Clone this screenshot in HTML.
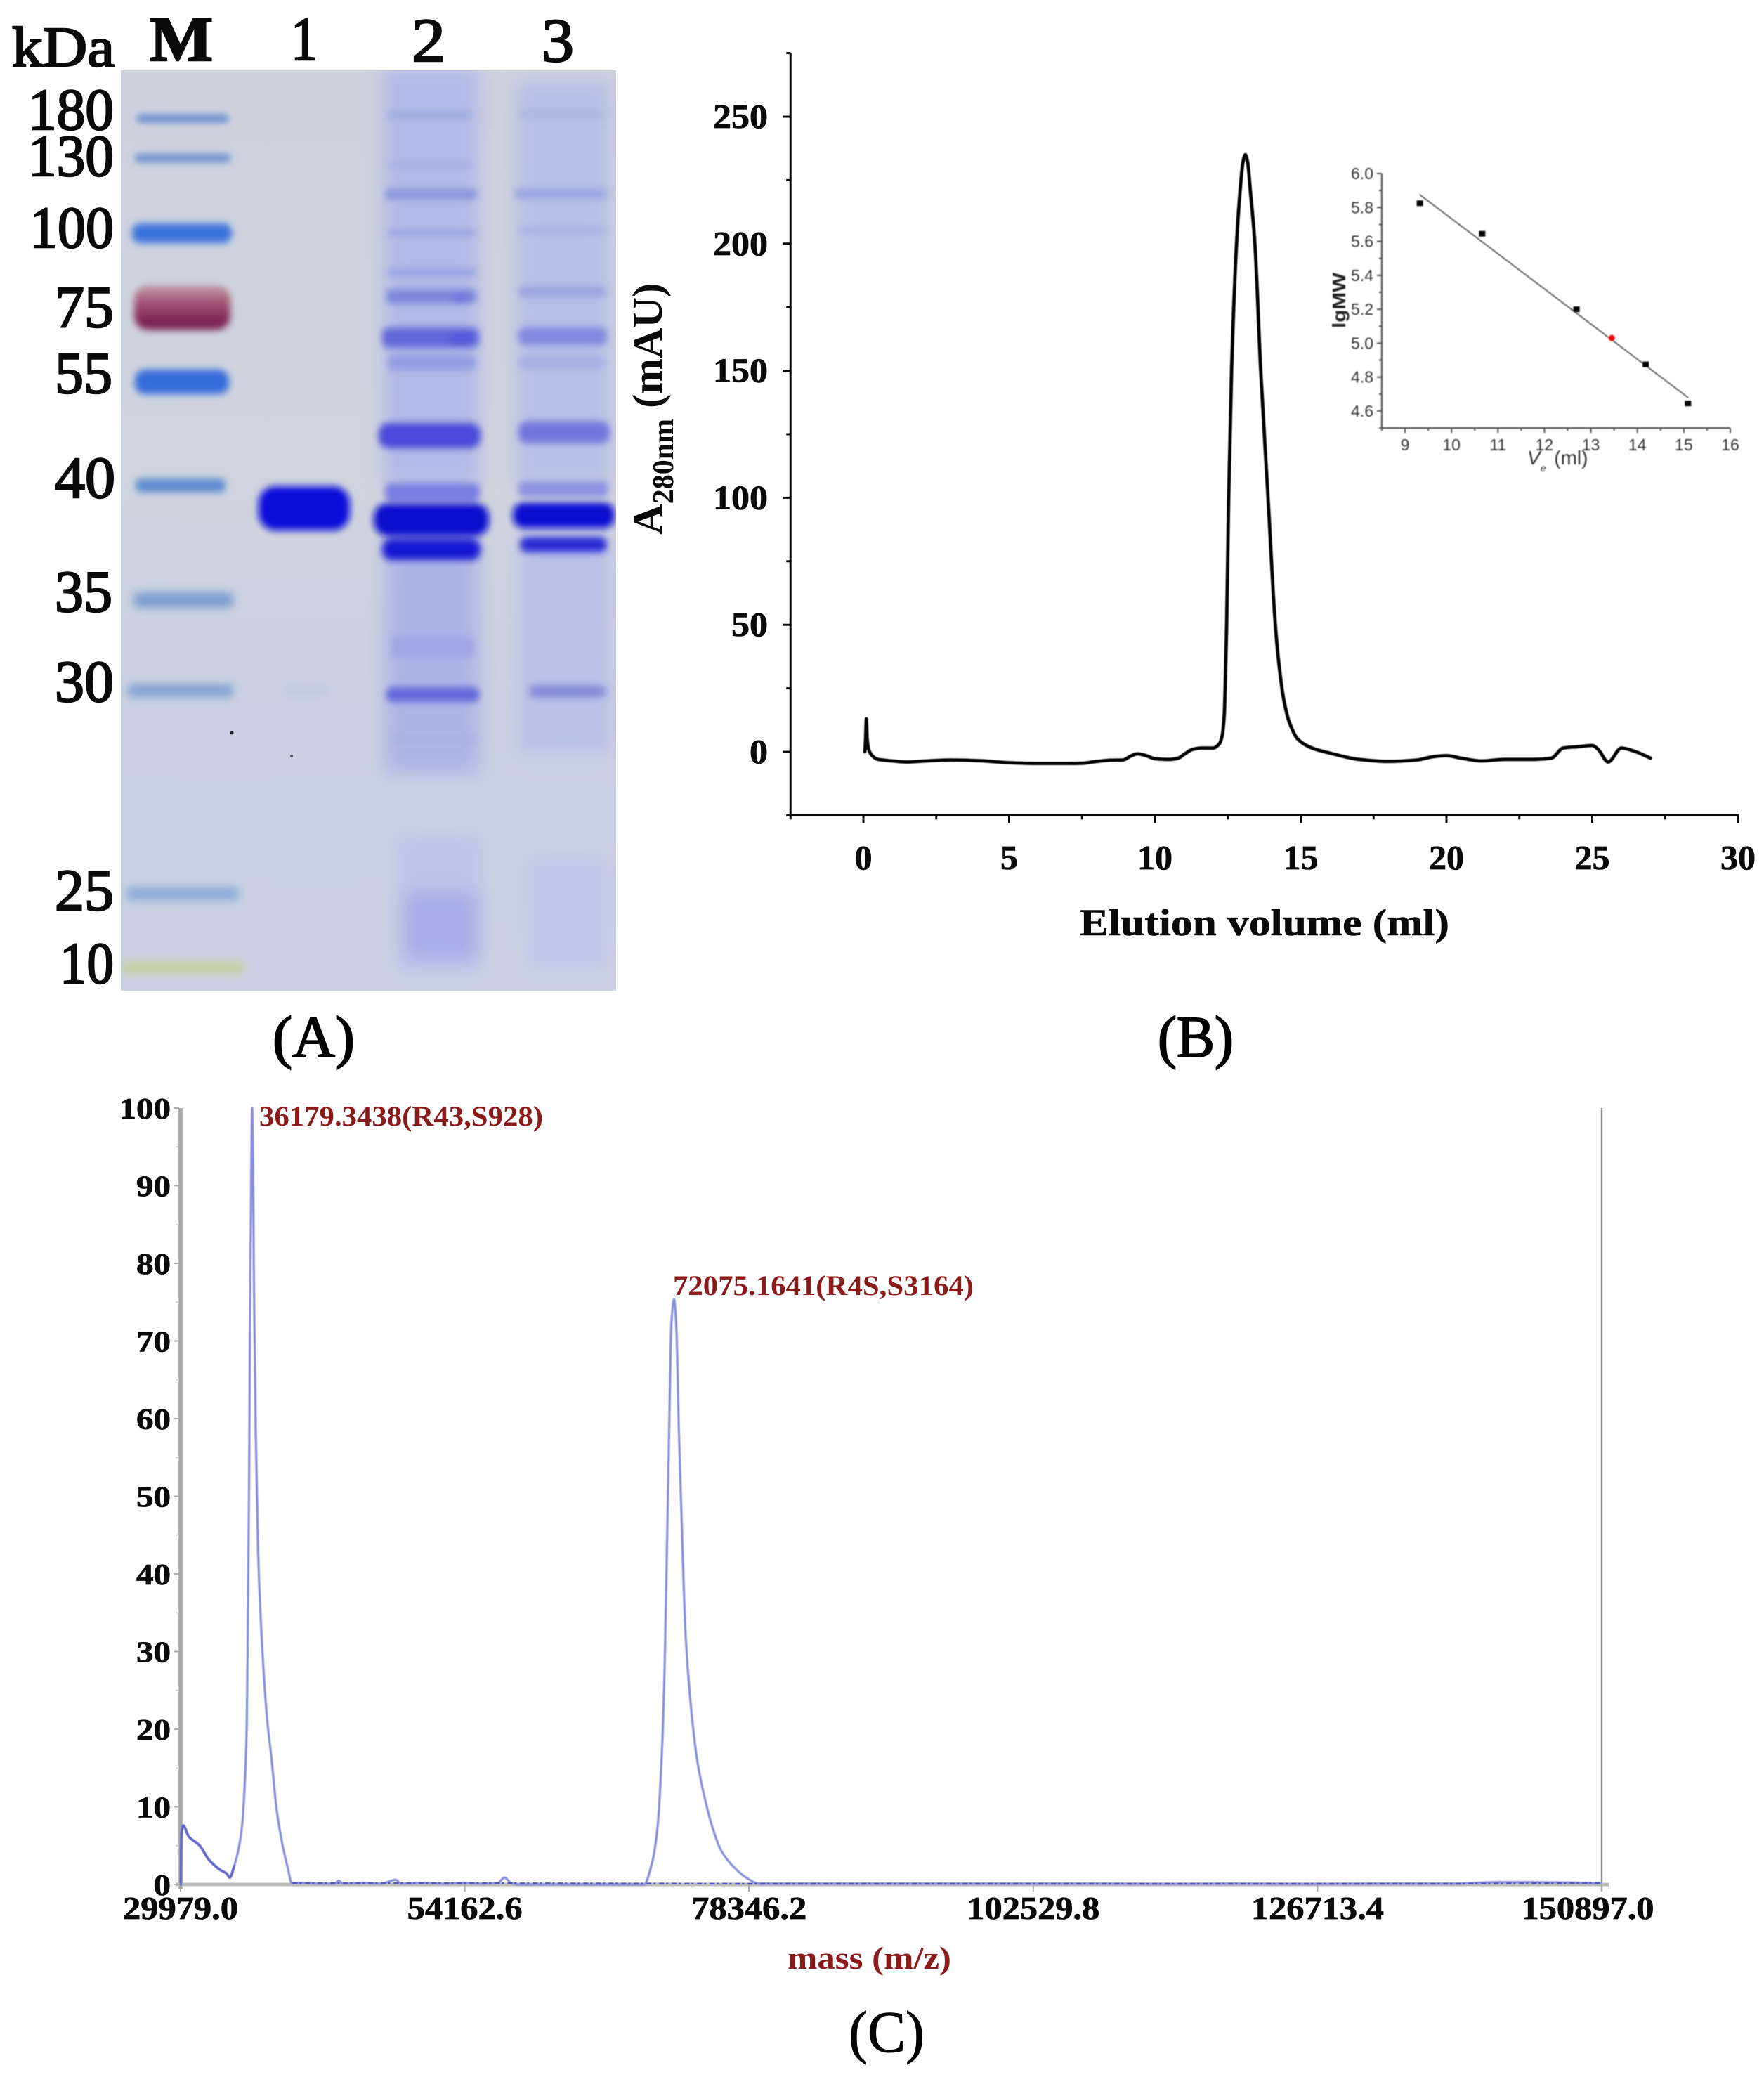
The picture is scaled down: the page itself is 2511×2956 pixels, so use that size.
<!DOCTYPE html>
<html lang="en">
<head>
<meta charset="utf-8">
<title>Protein purification figure: SDS-PAGE, gel filtration and mass spectrum</title>
<style>
html,body{margin:0;padding:0;background:#fff;width:2511px;height:2956px;overflow:hidden}
svg{display:block}
text{font-family:"Liberation Serif",serif}
.sans{font-family:"Liberation Sans",sans-serif}
</style>
</head>
<body>
<svg id="fig" xmlns="http://www.w3.org/2000/svg" width="2511" height="2956" viewBox="0 0 2511 2956">
<defs>
<filter id="b3" x="-20%" y="-150%" width="140%" height="400%"><feGaussianBlur stdDeviation="5"/></filter>
<filter id="b5" x="-20%" y="-150%" width="140%" height="400%"><feGaussianBlur stdDeviation="6.5"/></filter>
<filter id="b9" x="-30%" y="-30%" width="160%" height="160%"><feGaussianBlur stdDeviation="13"/></filter>
<filter id="b06"><feGaussianBlur stdDeviation="0.7"/></filter>
<filter id="b04" x="-2%" y="-2%" width="104%" height="104%"><feGaussianBlur stdDeviation="0.6"/></filter>
<linearGradient id="gelbg" x1="0" y1="0" x2="0" y2="1">
<stop offset="0" stop-color="#cdd2dd"/><stop offset="0.45" stop-color="#cfd5de"/><stop offset="0.8" stop-color="#c9cfe3"/><stop offset="1" stop-color="#cbd1e2"/>
</linearGradient>
<linearGradient id="maroon" x1="0" y1="0" x2="0" y2="1">
<stop offset="0" stop-color="#c39aa8"/><stop offset="0.35" stop-color="#a65a78"/><stop offset="0.75" stop-color="#7f2552"/><stop offset="1" stop-color="#7d2a58"/>
</linearGradient>
<clipPath id="gelclip"><rect x="172" y="100" width="705" height="1310"/></clipPath>
</defs>
<rect width="2511" height="2956" fill="#fff"/>

<!-- Panel A: gel photograph -->
<g id="panel-a">
<g clip-path="url(#gelclip)">
<rect x="172" y="100" width="705" height="1310" fill="url(#gelbg)"/>
<g filter="url(#b9)">
<rect x="546" y="95" width="136" height="595" fill="#b2b9e6"/>
<rect x="734" y="115" width="136" height="575" fill="#b8bfe6"/>
<rect x="548" y="770" width="134" height="330" fill="#aeb4e6"/>
<rect x="738" y="770" width="132" height="300" fill="#bac0e6"/>
<rect x="565" y="1190" width="120" height="195" fill="#bfc5e9"/>
<rect x="575" y="1270" width="105" height="95" fill="#a8abe6"/>
<rect x="748" y="1220" width="120" height="160" fill="#c2c8e8"/>
</g>
<g filter="url(#b5)">
<rect x="180" y="1263" width="160" height="18" rx="6" fill="#86a9d9"/>
<rect x="172" y="1368" width="175" height="18" rx="6" fill="#c4d2a0"/>
<rect x="182" y="974" width="150" height="18" rx="6" fill="#7ea1d2"/>
<rect x="190" y="843" width="142" height="22" rx="7" fill="#7c9ed0"/>
</g>
<g filter="url(#b3)">
<rect x="195" y="163" width="130" height="11" rx="4" fill="#6488d0"/>
<rect x="192" y="219" width="136" height="12" rx="4" fill="#6c90d0"/>
<rect x="188" y="318" width="142" height="28" rx="12" fill="#3b72dc"/>
<rect x="191" y="406" width="137" height="64" rx="20" fill="url(#maroon)"/>
<rect x="192" y="526" width="134" height="35" rx="14" fill="#346cda"/>
<rect x="193" y="681" width="128" height="20" rx="8" fill="#5f8cd0"/>
</g>
<g filter="url(#b3)">
<rect x="368" y="692" width="130" height="63" rx="24" fill="#0e0eda"/>
<rect x="552" y="159" width="120" height="9" rx="3" fill="#9ca8de"/>
<rect x="552" y="231" width="120" height="7" rx="2" fill="#a6aee2"/>
<rect x="548" y="269" width="130" height="15" rx="4" fill="#8c94de"/>
<rect x="552" y="327" width="125" height="8" rx="2" fill="#9aa2e0"/>
<rect x="552" y="382" width="125" height="11" rx="3" fill="#9aa2e2"/>
<rect x="550" y="412" width="128" height="20" rx="6" fill="#7e86dd"/>
<rect x="544" y="466" width="138" height="29" rx="10" fill="#6267da"/>
<rect x="552" y="505" width="125" height="22" rx="8" fill="#959be2"/>
<rect x="539" y="602" width="145" height="36" rx="14" fill="#4c4ad8"/>
<rect x="548" y="687" width="135" height="27" rx="9" fill="#7a7de0"/>
<rect x="532" y="716" width="164" height="47" rx="20" fill="#0a0ace"/>
<rect x="544" y="767" width="140" height="30" rx="13" fill="#1616d4"/>
<rect x="556" y="905" width="120" height="32" rx="12" fill="#a2a7e4"/>
<rect x="550" y="978" width="132" height="21" rx="8" fill="#6567d8"/>
<rect x="560" y="1047" width="116" height="11" rx="4" fill="#acb1e2"/>
<rect x="640" y="474" width="34" height="16" rx="7" fill="#5556dc"/>
<rect x="643" y="418" width="24" height="12" rx="6" fill="#6d73dc"/>
<rect x="738" y="159" width="122" height="7" rx="2" fill="#a8b2dc"/>
<rect x="733" y="268" width="130" height="15" rx="4" fill="#9ca6e0"/>
<rect x="738" y="324" width="124" height="8" rx="2" fill="#a8afe2"/>
<rect x="738" y="408" width="124" height="14" rx="4" fill="#9aa1e0"/>
<rect x="738" y="466" width="126" height="25" rx="9" fill="#8287de"/>
<rect x="738" y="507" width="122" height="18" rx="6" fill="#a8aee2"/>
<rect x="738" y="600" width="130" height="31" rx="12" fill="#7375de"/>
<rect x="738" y="685" width="128" height="22" rx="7" fill="#8d90e2"/>
<rect x="730" y="715" width="145" height="37" rx="16" fill="#1010d2"/>
<rect x="740" y="764" width="124" height="22" rx="10" fill="#2c2cd6"/>
<rect x="753" y="975" width="109" height="18" rx="7" fill="#888cda"/>
</g>
<rect x="400" y="975" width="70" height="16" rx="8" fill="#c3cae0" filter="url(#b5)"/>
<circle cx="330" cy="1043" r="2.5" fill="#222"/>
<circle cx="415" cy="1076" r="2" fill="#555"/>
</g>
<g id="gel-labels" fill="#0a0a0a" stroke="#0a0a0a" stroke-width="2.4">
<text x="17" y="94" font-size="80" textLength="146" lengthAdjust="spacingAndGlyphs">kDa</text>
<text x="213" y="86" font-size="90" font-weight="bold" textLength="90" lengthAdjust="spacingAndGlyphs">M</text>
<text x="414" y="85" font-size="88" textLength="38" lengthAdjust="spacingAndGlyphs">1</text>
<text x="586" y="87" font-size="88" textLength="48" lengthAdjust="spacingAndGlyphs">2</text>
<text x="771" y="87" font-size="88" textLength="46" lengthAdjust="spacingAndGlyphs">3</text>
<text x="40" y="184" font-size="84" textLength="122" lengthAdjust="spacingAndGlyphs">180</text>
<text x="40" y="250" font-size="84" textLength="122" lengthAdjust="spacingAndGlyphs">130</text>
<text x="42" y="352" font-size="84" textLength="120" lengthAdjust="spacingAndGlyphs">100</text>
<text x="78" y="465" font-size="84" textLength="84" lengthAdjust="spacingAndGlyphs">75</text>
<text x="78" y="559" font-size="84" textLength="82" lengthAdjust="spacingAndGlyphs">55</text>
<text x="78" y="708" font-size="84" textLength="86" lengthAdjust="spacingAndGlyphs">40</text>
<text x="78" y="870" font-size="84" textLength="82" lengthAdjust="spacingAndGlyphs">35</text>
<text x="78" y="998" font-size="84" textLength="84" lengthAdjust="spacingAndGlyphs">30</text>
<text x="78" y="1295" font-size="84" textLength="84" lengthAdjust="spacingAndGlyphs">25</text>
<text x="85" y="1399" font-size="84" textLength="77" lengthAdjust="spacingAndGlyphs">10</text>
</g>
</g>

<!-- Panel captions -->
<g fill="#000" stroke="#000" stroke-width="2">
<text x="388" y="1504" font-size="84" textLength="117" lengthAdjust="spacingAndGlyphs">(A)</text>
<text x="1648" y="1504" font-size="84" textLength="108" lengthAdjust="spacingAndGlyphs">(B)</text>
<text x="1208" y="2920" font-size="84" stroke-width="1" textLength="108" lengthAdjust="spacingAndGlyphs">(C)</text>
</g>

<!-- Titles -->
<text x="1537" y="1331" font-size="54" font-weight="bold" fill="#0a0a0a" stroke="#0a0a0a" stroke-width="0.6" textLength="526" lengthAdjust="spacingAndGlyphs">Elution volume (ml)</text>
<text transform="rotate(-90 942 761)" x="942" y="761" font-size="60.5" font-weight="bold" fill="#0a0a0a">A<tspan font-size="42" dy="16">280nm</tspan><tspan dy="-16"> (mAU)</tspan></text>
<text x="1121" y="2802" font-size="46" font-weight="bold" fill="#8b1a1a" textLength="233" lengthAdjust="spacingAndGlyphs">mass (m/z)</text>
<text x="369" y="1602" font-size="40" font-weight="bold" fill="#8b1a1a" textLength="404" lengthAdjust="spacingAndGlyphs">36179.3438(R43,S928)</text>
<text x="958" y="1843" font-size="40" font-weight="bold" fill="#8b1a1a" textLength="428" lengthAdjust="spacingAndGlyphs">72075.1641(R4S,S3164)</text>

<g filter="url(#b06)">
<text class="sans" transform="rotate(-90 1915 467)" x="1915" y="467" font-size="26" font-weight="bold" fill="#222" textLength="79" lengthAdjust="spacingAndGlyphs">lgMW</text>
<text class="sans" x="2174" y="661" font-size="28" font-style="italic" fill="#333">V<tspan font-size="14" dy="10">e</tspan><tspan font-style="normal" dy="-10" dx="4"> (ml)</tspan></text>
</g>

<g id="chart-b"></g>
<g id="chart-inset" filter="url(#b06)"></g>
<g id="chart-c"></g>
</svg>

<script>
// Chromatogram (panel B)
const chromTicksX = [0, 5, 10, 15, 20, 25, 30];
const chromTicksY = [0, 50, 100, 150, 200, 250];
const chromVolume = [0.05,0.08,0.1,0.13,0.18,0.3,0.5,1,1.5,2,3,4,5,6,7,7.5,8,8.5,8.9,9.2,9.4,9.7,10,10.5,10.8,11,11.3,11.6,12,12.2,12.3,12.38,12.42,12.46,12.53,12.63,12.8,12.93,13.02,13.1,13.18,13.28,13.43,13.63,13.88,14.13,14.3,14.43,14.6,14.9,15.2,15.5,16,17,18,19,19.5,20,20.5,21.2,22,23,23.6,24,24.5,25,25.2,25.55,26,26.5,27];
const chromAbs = [0,6,13,5,1,-1.5,-3,-3.6,-4,-3.7,-3.2,-3.5,-4.3,-4.6,-4.6,-4.5,-3.8,-3.3,-3.2,-1.5,-0.8,-1.5,-2.7,-3,-2.5,-1,1,1.5,1.5,3,6,15,30,50,100,150,200,222,232,235,232,220,200,150,100,50,30,20,12,5,2.5,1,-0.5,-3,-3.8,-3.2,-2,-1.5,-2.5,-3.6,-3,-3,-2.5,1.5,2,2.5,1,-4,1.5,0,-2.5];

// Calibration inset
const insetTicksX = [9, 10, 11, 12, 13, 14, 15, 16];
const insetTickLabelsY = ["4.6", "4.8", "5.0", "5.2", "5.4", "5.6", "5.8", "6.0"];
const insetVe = [9.32, 10.66, 12.69, 14.18, 15.09];
const insetLgMW = [5.825, 5.645, 5.2, 4.875, 4.645];
const sampleVe = [13.45];
const sampleLgMW = [5.03];
const fitVe = [9.32, 15.09];
const fitLgMW = [5.875, 4.68];

// Mass spectrum (panel C)
const massTickLabels = ["29979.0", "54162.6", "78346.2", "102529.8", "126713.4", "150897.0"];
const intensityTicks = [0, 10, 20, 30, 40, 50, 60, 70, 80, 90, 100];
const massValues = [29990,30055,30208,30665,31617,32379,33332,33903,34170,34551,34970,35237,35504,35618,35694,35808,35885,35999,36075,36151,36227,36380,36570,36875,37332,37713,38170,38666,39123,39428,40500,42000,43100,43428,43800,45500,47000,48305,48700,50500,52500,54100,55500,57000,57525,58100,58670,69413,70098,70556,70937,71165,71356,71547,71737,71966,72156,72385,72690,72956,73337,73908,74480,75242,76004,76956,78099,79242,84000,90000,96000,102000,108000,114000,120000,126000,132000,138000,142000,145000,148000,150800];
const intensityValues = [0,6.5,7.6,6.2,5,3.2,1.9,1.4,0.9,2.4,5,8,15,21,32,51,72,92,100,92,77,58,43,32,21.5,16.3,9.5,5,2,0.2,0.2,0.1,0.1,0.5,0.1,0.2,0.1,0.6,0.1,0.2,0.1,0.2,0.1,0.2,0.9,0.2,0,0,2.8,7.3,17,28,43,58,72,75.4,72,58,43,32,24,16.3,11.8,7.3,4.3,2.4,0.9,0.1,0.1,0.1,0.1,0.1,0.1,0.05,0.1,0.05,0.1,0.1,0.3,0.3,0.25,0.15];
const lowMassCount = [10];
const noiseMass = [39500, 58200, 79300, 138000, 150800];
const noiseIntensity = [0.15, 0.15, 0.1, 0.1, 0.2];

const NS = 'http://www.w3.org/2000/svg';

function add(parent, tag, attrs) {
  const el = document.createElementNS(NS, tag);
  for (const k in attrs) el.setAttribute(k, attrs[k]);
  parent.appendChild(el);
  return el;
}

function linear(d0, d1, r0, r1) {
  return function (v) { return r0 + (v - d0) * (r1 - r0) / (d1 - d0); };
}

function lineMark(parent, x1, y1, x2, y2, color, width, name) {
  const el = add(parent, 'line', { x1: x1, y1: y1, x2: x2, y2: y2, stroke: color, 'stroke-width': width });
  
  
  return el;
}

function textMark(parent, str, x, y, size, anchor, weight, color, width, family, name) {
  const el = add(parent, 'text', { x: x, y: y, 'font-size': size, 'text-anchor': anchor, 'font-weight': weight, fill: color });
  if (width) { el.setAttribute('textLength', width); el.setAttribute('lengthAdjust', 'spacingAndGlyphs'); }
  if (family) el.setAttribute('class', family);
  if (weight === 'bold') { el.setAttribute('stroke', color); el.setAttribute('stroke-width', '0.8'); }
  el.textContent = str;
  
  
  return el;
}

// Monotone cubic interpolation through the projected data points.
function monotonePath(px, py) {
  const n = px.length;
  const s = [], m = [];
  for (let i = 0; i < n - 1; i++) s.push((py[i + 1] - py[i]) / (px[i + 1] - px[i]));
  m.push(s[0]);
  for (let i = 1; i < n - 1; i++) {
    m.push(s[i - 1] * s[i] <= 0 ? 0 : 2 * s[i - 1] * s[i] / (s[i - 1] + s[i]));
  }
  m.push(s[n - 2]);
  let d = 'M' + px[0].toFixed(1) + ' ' + py[0].toFixed(1);
  for (let i = 0; i < n - 1; i++) {
    const h = (px[i + 1] - px[i]) / 3;
    d += 'C' + (px[i] + h).toFixed(1) + ' ' + (py[i] + h * m[i]).toFixed(1) + ' ' +
      (px[i + 1] - h).toFixed(1) + ' ' + (py[i + 1] - h * m[i + 1]).toFixed(1) + ' ' +
      px[i + 1].toFixed(1) + ' ' + py[i + 1].toFixed(1);
  }
  return d;
}

function curveMark(parent, xs, ys, sx, sy, color, width, name) {
  const el = add(parent, 'path', { d: monotonePath(xs.map(sx), ys.map(sy)), fill: 'none', stroke: color, 'stroke-width': width, 'stroke-linejoin': 'round', 'stroke-linecap': 'round' });
  
  
  return el;
}

function pathMark(parent, xs, ys, sx, sy, color, width, name) {
  const pts = xs.map(function (v, i) { return sx(v).toFixed(1) + ',' + sy(ys[i]).toFixed(1); }).join(' ');
  const el = add(parent, 'polyline', { points: pts, fill: 'none', stroke: color, 'stroke-width': width, 'stroke-linejoin': 'round', 'stroke-linecap': 'round' });
  
  
  return el;
}

/* ---------- Panel B ---------- */
(function () {
  const g = document.getElementById('chart-b');
  const x = linear(0, 30, 1229, 2474);
  const y = linear(0, 250, 1070, 166);
  const xMin = -2.5, xMax = 30, yMin = -25, yMax = 275;
  lineMark(g, x(xMin), y(yMin), x(xMin), y(yMax), '#0a0a0a', 3, 'y-axis-line');
  lineMark(g, x(xMin) - 1, y(yMin), x(xMax) + 1, y(yMin), '#0a0a0a', 3, 'x-axis-line');
  chromTicksY.forEach(function (t) {
    lineMark(g, x(xMin) - 11, y(t), x(xMin), y(t), '#0a0a0a', 3, 'y-tick-major');
    textMark(g, String(t), 1093, y(t) + 16, 49, 'end', 'bold', '#0a0a0a', String(t).length * 26, null, 'y-tick-label');
    lineMark(g, x(xMin) - 6, y(t + 25), x(xMin), y(t + 25), '#0a0a0a', 3, 'y-tick-minor');
  });
  lineMark(g, x(xMin) - 6, y(yMin), x(xMin), y(yMin), '#0a0a0a', 3, 'y-tick-minor');
  chromTicksX.forEach(function (t) {
    lineMark(g, x(t), y(yMin), x(t), y(yMin) + 11, '#0a0a0a', 3, 'x-tick-major');
    textMark(g, String(t), x(t), 1237, 49, 'middle', 'bold', '#0a0a0a', String(t).length * 25, null, 'x-tick-label');
    lineMark(g, x(t - 2.5), y(yMin), x(t - 2.5), y(yMin) + 6, '#0a0a0a', 3, 'x-tick-minor');
  });
  const trace = curveMark(g, chromVolume, chromAbs, x, y, '#050505', 4.8, 'chromatogram-trace');
  trace.setAttribute('filter', 'url(#b04)');
})();

/* ---------- Inset ---------- */
(function () {
  const g = document.getElementById('chart-inset');
  const x = linear(9, 16, 2000, 2463);
  const y = linear(4.6, 6.0, 585, 247);
  const left = x(8.5), bottom = y(4.5), top = y(6.0), right = x(16);
  lineMark(g, left, bottom, left, top, '#555', 2.2, 'inset-y-axis-line');
  lineMark(g, left, bottom, right, bottom, '#555', 2.2, 'inset-x-axis-line');
  insetTickLabelsY.forEach(function (t) {
    const v = parseFloat(t);
    lineMark(g, left - 7, y(v), left, y(v), '#555', 2, 'inset-y-tick-major');
    lineMark(g, left - 4, y(v - 0.1), left, y(v - 0.1), '#555', 2, 'inset-y-tick-minor');
    textMark(g, t, 1955, y(v) + 8, 23, 'end', 'normal', '#333', 32, 'sans', 'inset-y-tick-label');
  });
  insetTicksX.forEach(function (t) {
    lineMark(g, x(t), bottom, x(t), bottom + 7, '#555', 2, 'inset-x-tick-major');
    lineMark(g, x(t - 0.5), bottom, x(t - 0.5), bottom + 4, '#555', 2, 'inset-x-tick-minor');
    textMark(g, String(t), x(t), 641, 23, 'middle', 'normal', '#333', null, 'sans', 'inset-x-tick-label');
  });
  pathMark(g, fitVe, fitLgMW, x, y, '#555', 1.8, 'inset-fit-line');
  insetVe.forEach(function (v, i) {
    const sq = add(g, 'rect', { x: x(v) - 4.5, y: y(insetLgMW[i]) - 4, width: 9, height: 8, fill: '#000' });
    
    
  });
  sampleVe.forEach(function (v, i) {
    const dot = add(g, 'circle', { cx: x(v), cy: y(sampleLgMW[i]), r: 4.5, fill: '#ee1111' });
    
    
  });
})();

/* ---------- Panel C ---------- */
(function () {
  const g = document.getElementById('chart-c');
  const lo = parseFloat(massTickLabels[0]);
  const hi = parseFloat(massTickLabels[massTickLabels.length - 1]);
  const x = linear(lo, hi, 257, 2280);
  const y = linear(0, 100, 2682, 1577);
  lineMark(g, 2280, y(100), 2280, y(0) + 8, '#8a8a8a', 2.4, 'right-border-line');
  lineMark(g, 257, y(100), 257, y(0) + 6, '#a6a6a6', 5.5, 'y-axis-line');
  lineMark(g, 250, y(0), 2290, y(0), '#bcbcbc', 5, 'x-axis-line');
  intensityTicks.forEach(function (t) {
    lineMark(g, 248, y(t), 255, y(t), '#b0b0b0', 2, 'y-tick-major');
    if (t < 100) lineMark(g, 250, y(t + 5), 255, y(t + 5), '#cfcfcf', 2, 'y-tick-minor');
    textMark(g, String(t), 243, y(t) + 15, 42, 'end', 'bold', '#0a0a0a', String(t).length * 24.5, null, 'y-tick-label');
  });
  massTickLabels.forEach(function (t) {
    const v = parseFloat(t);
    lineMark(g, x(v), y(0), x(v), y(0) + 10, '#a8a8a8', 2, 'x-tick');
    const labelX = Math.min(x(v), 2260);
    textMark(g, t, labelX, 2731, 46, 'middle', 'bold', '#0a0a0a', t.length > 7 ? 189 : 164, null, 'x-tick-label');
  });
  const trace = curveMark(g, massValues, intensityValues, x, y, '#8890dc', 3.2, 'mass-spectrum-trace');
  trace.setAttribute('filter', 'url(#b04)');
  const low = curveMark(g, massValues.slice(0, lowMassCount[0]), intensityValues.slice(0, lowMassCount[0]), x, y, '#5d65c8', 3.2, 'low-mass-trace');
  low.setAttribute('filter', 'url(#b04)');
  const noise = pathMark(g, noiseMass, noiseIntensity, x, y, '#5058b8', 2.5, 'baseline-noise-trace');
  noise.setAttribute('stroke-dasharray', '7 3 3 5');
  noise.setAttribute('stroke-linecap', 'butt');
})();
</script>
</body>
</html>
